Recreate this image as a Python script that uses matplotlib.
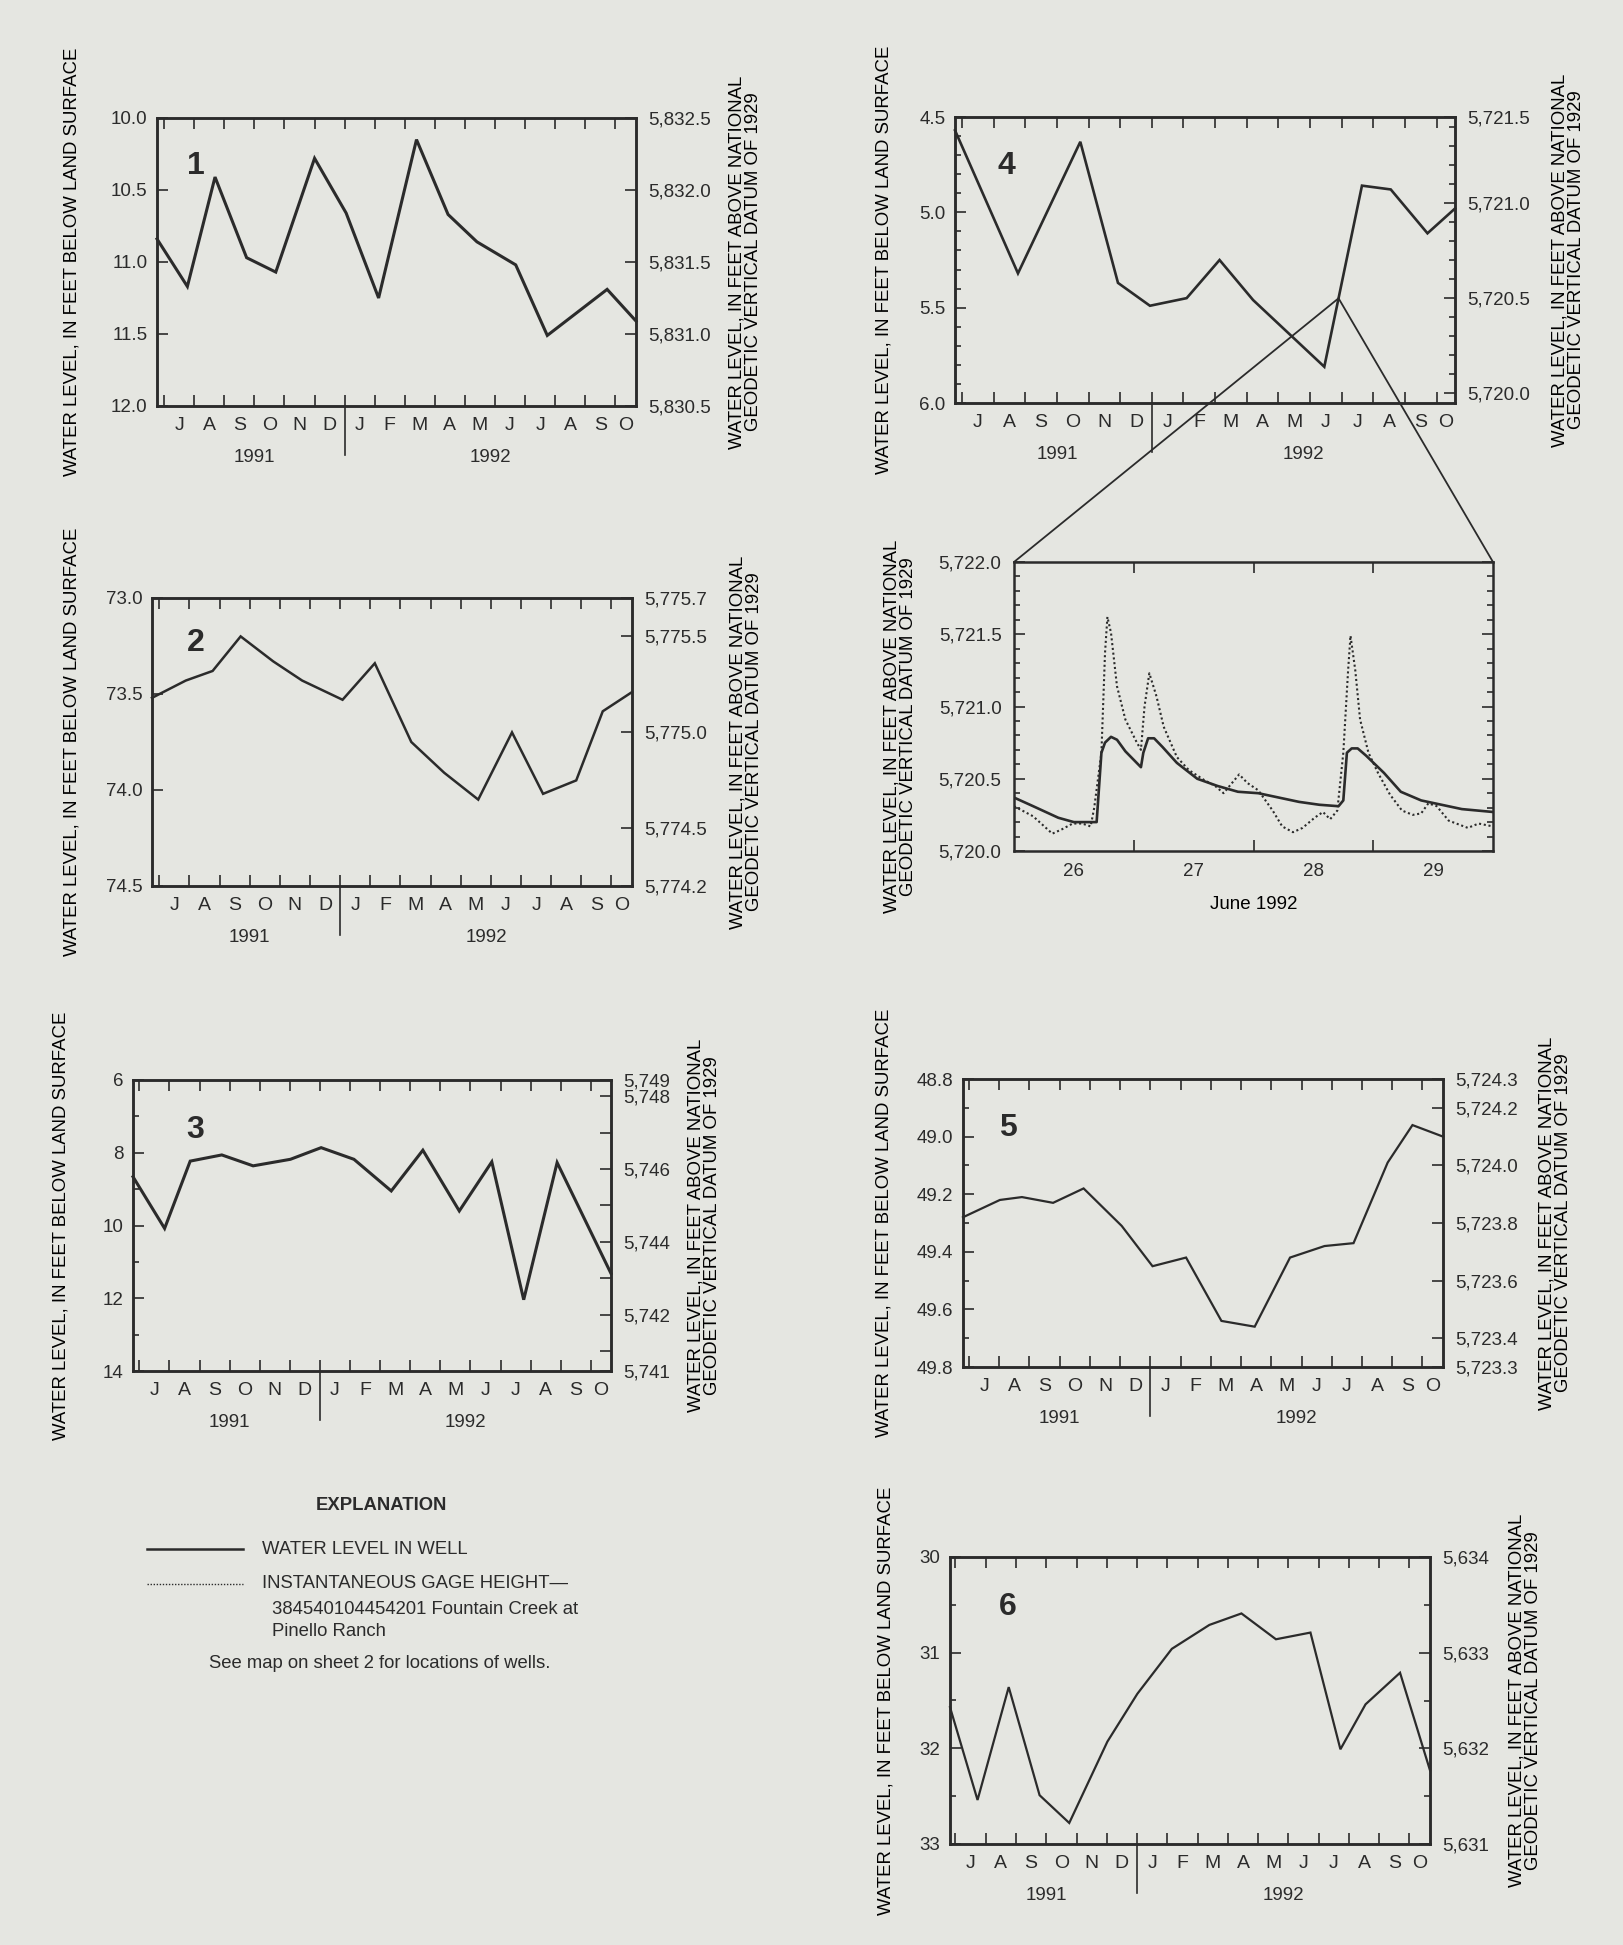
import numpy as np
import matplotlib
matplotlib.use('Agg')
import matplotlib.pyplot as plt
import matplotlib.transforms as mtransforms
from matplotlib.patches import ConnectionPatch
from matplotlib.ticker import MultipleLocator

BG = '#e5e6e1'
INK = '#2b2b2b'
NARROW = ['Liberation Sans Narrow', 'Liberation Sans', 'DejaVu Sans']
SANS = ['Liberation Sans', 'DejaVu Sans']
TICK_FS = 13.5
MONTH_FS = 14

plt.rcParams['font.family'] = NARROW
plt.rcParams['text.color'] = INK
plt.rcParams['axes.edgecolor'] = INK
plt.rcParams['axes.linewidth'] = 1.8
plt.rcParams['xtick.color'] = INK
plt.rcParams['ytick.color'] = INK

# ---------------- data ----------------
# time axis = months after 1 July 1991, depth = feet below land surface
month_labels = ['J', 'A', 'S', 'O', 'N', 'D', 'J', 'F', 'M', 'A', 'M', 'J', 'J', 'A', 'S', 'O']
year_labels = ['1991', '1992']

well1_t = [-0.24, 0.77, 1.69, 2.74, 3.71, 5.00, 6.05, 7.13, 8.39, 9.44, 10.40, 11.69, 12.74, 14.73, 15.69]
well1_depth = [10.84, 11.17, 10.41, 10.97, 11.07, 10.28, 10.66, 11.25, 10.15, 10.67, 10.86, 11.02, 11.51, 11.19, 11.41]

well2_t = [-0.24, 0.88, 1.77, 2.70, 3.78, 4.74, 6.08, 7.15, 8.36, 9.45, 10.58, 11.70, 12.73, 13.83, 14.71, 15.68]
well2_depth = [73.52, 73.43, 73.38, 73.20, 73.33, 73.43, 73.53, 73.34, 73.75, 73.91, 74.05, 73.70, 74.02, 73.95, 73.59, 73.49]

well3_t = [-0.21, 0.84, 1.69, 2.74, 3.78, 5.02, 6.04, 7.13, 8.37, 9.42, 10.63, 11.71, 12.77, 13.88, 15.67]
well3_depth = [8.66, 10.08, 8.23, 8.06, 8.36, 8.18, 7.86, 8.18, 9.05, 7.93, 9.60, 8.25, 12.04, 8.27, 11.32]

well4_t = [-0.22, 1.77, 3.74, 4.93, 5.94, 7.10, 8.14, 9.20, 11.45, 12.64, 13.55, 14.71, 15.58]
well4_depth = [4.57, 5.32, 4.63, 5.37, 5.49, 5.45, 5.25, 5.46, 5.81, 4.86, 4.88, 5.11, 4.98]

well5_t = [-0.20, 1.02, 1.75, 2.78, 3.79, 5.05, 6.07, 7.18, 8.35, 9.45, 10.62, 11.76, 12.72, 13.85, 14.67, 15.68]
well5_depth = [49.28, 49.22, 49.21, 49.23, 49.18, 49.31, 49.45, 49.42, 49.64, 49.66, 49.42, 49.38, 49.37, 49.09, 48.96, 49.00]

well6_t = [-0.18, 0.73, 1.76, 2.78, 3.76, 5.02, 6.01, 7.15, 8.39, 9.45, 10.59, 11.73, 12.72, 13.55, 14.69, 15.68]
well6_depth = [31.57, 32.54, 31.36, 32.49, 32.78, 31.93, 31.43, 30.96, 30.71, 30.59, 30.86, 30.79, 32.01, 31.54, 31.21, 32.23]

# June 1992 detail for well 4 (day of month, elevation)
june_days = ['26', '27', '28', '29']
well4_june_day = [26.00, 26.16, 26.37, 26.50, 26.69, 26.73, 26.76, 26.81, 26.86, 26.93, 27.06, 27.08,
                  27.12, 27.17, 27.24, 27.36, 27.53, 27.70, 27.87, 28.04, 28.21, 28.38, 28.55, 28.71,
                  28.75, 28.78, 28.82, 28.87, 28.94, 29.09, 29.23, 29.40, 29.57, 29.74, 30.00]
well4_june_elev = [5720.37, 5720.31, 5720.23, 5720.20, 5720.20, 5720.68, 5720.75, 5720.79, 5720.77,
                   5720.69, 5720.58, 5720.68, 5720.78, 5720.78, 5720.72, 5720.61, 5720.50, 5720.45,
                   5720.41, 5720.40, 5720.37, 5720.34, 5720.32, 5720.31, 5720.35, 5720.68, 5720.71,
                   5720.71, 5720.66, 5720.54, 5720.41, 5720.35, 5720.32, 5720.29, 5720.27]
gage_day = [26.00, 26.16, 26.32, 26.40, 26.49, 26.57, 26.64, 26.67, 26.73, 26.76, 26.78, 26.81, 26.86,
            26.93, 27.02, 27.06, 27.09, 27.13, 27.19, 27.25, 27.36, 27.46, 27.59, 27.68, 27.75, 27.80,
            27.88, 27.95, 28.04, 28.16, 28.24, 28.33, 28.41, 28.51, 28.58, 28.64, 28.70, 28.75, 28.79,
            28.81, 28.85, 28.89, 28.96, 29.04, 29.14, 29.24, 29.33, 29.40, 29.46, 29.53, 29.63, 29.79,
            29.88, 30.00]
gage_elev = [5720.31, 5720.24, 5720.12, 5720.15, 5720.19, 5720.19, 5720.17, 5720.30, 5720.68, 5721.37,
             5721.62, 5721.51, 5721.14, 5720.91, 5720.76, 5720.70, 5721.00, 5721.23, 5721.07, 5720.86,
             5720.65, 5720.56, 5720.49, 5720.45, 5720.40, 5720.45, 5720.53, 5720.47, 5720.42, 5720.28,
             5720.17, 5720.13, 5720.16, 5720.23, 5720.27, 5720.22, 5720.28, 5720.68, 5721.25, 5721.49,
             5721.25, 5720.91, 5720.68, 5720.54, 5720.39, 5720.28, 5720.25, 5720.26, 5720.33, 5720.31,
             5720.21, 5720.16, 5720.19, 5720.17]

# land-surface altitude of each well (ft above NGVD 1929)
land = {1: 5842.5, 2: 5848.7, 3: 5754.45, 4: 5725.95, 5: 5773.1, 6: 5664.0}

LEFT_LABEL = 'WATER LEVEL, IN FEET BELOW LAND SURFACE'
RIGHT_LABEL = 'WATER LEVEL, IN FEET ABOVE NATIONAL\nGEODETIC VERTICAL DATUM OF 1929'

W, H = 1623, 1945
fig = plt.figure(figsize=(W / 100, H / 100), dpi=100)
fig.patch.set_facecolor(BG)


def rect(x0, y0, x1, y1):
    return [x0 / W, 1 - y1 / H, (x1 - x0) / W, (y1 - y0) / H]


def well_panel(box, t, depth, num, elev0, xlim, ylim, lticks, lfmt, lminor,
               rticks, rlabels, rminor, lw, lab_x, num_xy):
    ax = fig.add_axes(rect(*box))
    ax.set_facecolor(BG)
    ax.plot(t, depth, color=INK, lw=lw, solid_joinstyle='miter', clip_on=False, zorder=3)

    # months
    ax.set_xlim(*xlim)
    n = len(month_labels)
    ax.set_xticks(np.arange(n))
    ax.tick_params(axis='x', which='major', direction='in', length=8, width=1.2,
                   top=True, bottom=True, labelbottom=False)
    mid = [i + 0.5 for i in range(n - 1)] + [(n - 1 + xlim[1]) / 2]
    ax.set_xticks(mid, labels=month_labels, minor=True)
    ax.tick_params(axis='x', which='minor', length=0, pad=8, labelsize=MONTH_FS)
    jan = 6
    tr = mtransforms.blended_transform_factory(ax.transData, ax.transAxes)
    ax.plot([jan, jan], [0, -0.17], transform=tr, color=INK, lw=1.2, clip_on=False)
    for x, yr in zip([jan / 2, (jan + xlim[1]) / 2], year_labels):
        ax.annotate(yr, xy=(x, 0), xycoords=tr, xytext=(0, -37), textcoords='offset points',
                    ha='center', va='center', fontsize=TICK_FS)

    # depth axis
    ax.set_ylim(ylim[1], ylim[0])
    ax.set_yticks(lticks, labels=[lfmt.format(v) for v in lticks])
    ax.tick_params(axis='y', which='major', direction='in', length=8, width=1.2, pad=7, labelsize=TICK_FS)
    if lminor:
        ax.yaxis.set_minor_locator(MultipleLocator(lminor))
        ax.tick_params(axis='y', which='minor', direction='in', length=4.5, width=1.2)
    ax.set_ylabel(LEFT_LABEL, family=SANS, fontsize=13.4, va='center', ha='center')
    ax.yaxis.set_label_coords(lab_x[0], 0.5)

    # altitude axis
    ax2 = ax.twinx()
    ax2.set_ylim(elev0 - ylim[1], elev0 - ylim[0])
    ax2.set_yticks(rticks, labels=rlabels)
    ax2.tick_params(axis='y', which='major', direction='in', length=8, width=1.2, pad=9, labelsize=TICK_FS)
    if rminor:
        ax2.yaxis.set_minor_locator(MultipleLocator(rminor))
        ax2.tick_params(axis='y', which='minor', direction='in', length=4.5, width=1.2)
    ax2.set_ylabel(RIGHT_LABEL, family=SANS, fontsize=13.4, va='center', ha='center', linespacing=0.95)
    ax2.yaxis.set_label_coords(lab_x[1], 0.5)

    ax.text(num_xy[0], num_xy[1], str(num), transform=ax.transAxes, fontsize=23,
            fontweight='bold', ha='center', va='center')
    return ax


def fmt_elev(v, nd=1):
    return f'{v:,.{nd}f}'


# well 1
well_panel((157, 118, 636, 406), well1_t, well1_depth, 1, land[1], (-0.24, 15.69), (10.0, 12.0),
           np.arange(10.0, 12.01, 0.5), '{:.1f}', None,
           np.arange(5830.5, 5832.51, 0.5), [fmt_elev(v) for v in np.arange(5830.5, 5832.51, 0.5)], None,
           2.2, (-0.177, 1.228), (0.081, 0.832))

# well 2
r2 = [5774.2, 5774.5, 5775.0, 5775.5, 5775.7]
well_panel((152, 598, 632, 886), well2_t, well2_depth, 2, land[2], (-0.24, 15.68), (73.0, 74.5),
           np.arange(73.0, 74.51, 0.5), '{:.1f}', None,
           r2, [fmt_elev(v) for v in r2], None,
           1.8, (-0.167, 1.2375), (0.091, 0.844))

# well 3 (end labels are nominal)
r3 = [land[3] - 14] + list(range(5741, 5749)) + [land[3] - 6]
r3_lab = ['5,741', '', '5,742', '', '5,744', '', '5,746', '', '5,748', '5,749']
well_panel((133, 1080, 611, 1371), well3_t, well3_depth, 3, land[3], (-0.21, 15.67), (6, 14),
           np.arange(6, 15, 2), '{:.0f}', 1,
           r3, r3_lab, None,
           2.2, (-0.151, 1.195), (0.13, 0.828))

# well 4
r4 = [5720.0, 5720.5, 5721.0, land[4] - 4.5]
ax4 = well_panel((955, 117, 1455, 403), well4_t, well4_depth, 4, land[4], (-0.22, 15.58), (4.5, 6.0),
                 np.arange(4.5, 6.01, 0.5), '{:.1f}', 0.1,
                 r4, ['5,720.0', '5,720.5', '5,721.0', '5,721.5'], 0.1,
                 1.9, (-0.142, 1.226), (0.103, 0.827))

# well 5
r5 = [5723.3, 5723.4, 5723.6, 5723.8, 5724.0, 5724.2, 5724.3]
well_panel((963, 1079, 1443, 1367), well5_t, well5_depth, 5, land[5], (-0.20, 15.68), (48.8, 49.8),
           np.arange(48.8, 49.81, 0.2), '{:.1f}', 0.1,
           r5, [fmt_elev(v) for v in r5], None,
           1.6, (-0.165, 1.233), (0.094, 0.83))

# well 6
r6 = [5631, 5632, 5633, 5634]
well_panel((950, 1557, 1430, 1844), well6_t, well6_depth, 6, land[6], (-0.18, 15.68), (30, 33),
           np.arange(30, 34, 1), '{:.0f}', 0.5,
           r6, [fmt_elev(v, 0) for v in r6], 0.5,
           1.6, (-0.133, 1.199), (0.12, 0.826))

# ---------------- June 1992 detail ----------------
axz = fig.add_axes(rect(1014, 562, 1493, 851))
axz.set_facecolor(BG)
axz.plot(gage_day, gage_elev, color=INK, lw=1.5, ls=(0, (1, 1.3)))
axz.plot(well4_june_day, well4_june_elev, color=INK, lw=1.9)
axz.set_xlim(26, 30)
axz.set_ylim(5720.0, 5722.0)
axz.set_xticks([27, 28, 29])
axz.tick_params(axis='x', which='major', direction='in', length=8, width=1.2,
                top=True, bottom=True, labelbottom=False)
axz.set_xticks([int(d) + 0.5 for d in june_days], labels=june_days, minor=True)
axz.tick_params(axis='x', which='minor', length=0, pad=9, labelsize=TICK_FS)
axz.set_xlabel('June 1992', fontsize=TICK_FS, labelpad=11)
yt = np.arange(5720.0, 5722.01, 0.5)
axz.set_yticks(yt, labels=[fmt_elev(v) for v in yt])
axz.yaxis.set_minor_locator(MultipleLocator(0.1))
axz.tick_params(axis='y', which='major', direction='in', length=8, width=1.2, pad=9,
                labelsize=TICK_FS, left=True, right=True)
axz.tick_params(axis='y', which='minor', direction='in', length=4.5, width=1.2, left=True, right=True)
axz.set_ylabel(RIGHT_LABEL, family=SANS, fontsize=13.4, va='center', ha='center', linespacing=0.95)
axz.yaxis.set_label_coords(-0.237, 0.43)

# connector lines: late June 1992 on the well-4 hydrograph to the detail plot
june = 11
apex_t = june + (np.mean([26, 30]) - 1) / 30
apex_d = np.interp(apex_t, well4_t, well4_depth)
for corner in [(0, 1), (1, 1)]:
    con = ConnectionPatch(xyA=(apex_t, apex_d), coordsA=ax4.transData,
                          xyB=corner, coordsB=axz.transAxes, color=INK, lw=1.3)
    fig.add_artist(con)

# ---------------- explanation ----------------
ov = fig.add_axes([0, 0, 1, 1])
ov.set_xlim(0, W)
ov.set_ylim(H, 0)
ov.axis('off')
ov.text(381, 1505, 'EXPLANATION', ha='center', va='center', fontsize=13.3, fontweight='bold', family=SANS)
ov.plot([147, 243], [1549, 1549], color=INK, lw=1.8)
ov.text(262, 1549, 'WATER LEVEL IN WELL', va='center', fontsize=13.3, family=SANS)
ov.plot([147, 243], [1584, 1584], color=INK, lw=1.0, ls=(0, (1, 1.2)))
ov.text(262, 1584, 'INSTANTANEOUS GAGE HEIGHT\u2014', va='center', fontsize=13.3, family=SANS)
ov.text(272, 1609, '384540104454201 Fountain Creek at', va='center', fontsize=13.3, family=SANS)
ov.text(272, 1631, 'Pinello Ranch', va='center', fontsize=13.3, family=SANS)
ov.text(209, 1664, 'See map on sheet 2 for locations of wells.', va='center', fontsize=13.3, family=SANS)

fig.savefig('out.png', dpi=100, facecolor=BG)
